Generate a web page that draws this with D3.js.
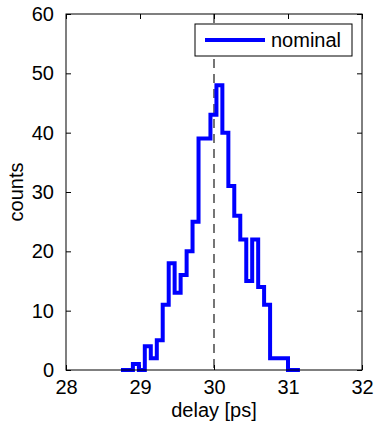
<!DOCTYPE html>
<html>
<head>
<meta charset="utf-8">
<script src="https://cdn.jsdelivr.net/npm/d3@7"></script>
<style>
  body { margin: 0; background: #fff; }
  text { font-family: "Liberation Sans", Arial, sans-serif; }
</style>
</head>
<body>
<svg id="chart"></svg>
<script>
// histogram bin edges (ps) and counts
const binEdges = [28.743, 28.824, 28.904, 28.985, 29.065, 29.146, 29.227, 29.307,
  29.388, 29.468, 29.549, 29.630, 29.710, 29.791, 29.871, 29.952, 30.033, 30.113,
  30.194, 30.274, 30.355, 30.436, 30.516, 30.597, 30.677, 30.758, 30.839, 30.919,
  31.000, 31.080, 31.161];
const counts = [0, 0, 1, 0, 4, 2, 5, 11, 18, 13, 16, 20, 25, 39, 39, 43, 48, 40,
  31, 26, 22, 15, 22, 14, 11, 2, 2, 2, 0, 0];
const nominalDelay = 30;
const xTicks = [28, 29, 30, 31, 32];
const yTicks = [0, 10, 20, 30, 40, 50, 60];

const margin = { top: 14, right: 15, bottom: 54, left: 66 };
const width = 377 - margin.left - margin.right;
const height = 424 - margin.top - margin.bottom;
const fontSize = 20;

const svg = d3.select("#chart")
    .attr("width", width + margin.left + margin.right)
    .attr("height", height + margin.top + margin.bottom)
    .append("g")
    .attr("transform", `translate(${margin.left},${margin.top})`);

const xScale = d3.scaleLinear().domain([28, 32]).range([0, width]);
const yScale = d3.scaleLinear().domain([0, 60]).range([height, 0]);

// stair points: each count starts at its left edge, closes at last edge
const pts = counts.map((c, i) => ({ x: binEdges[i], y: c }));
pts.push({ x: binEdges[binEdges.length - 1], y: counts[counts.length - 1] });

const line = d3.line()
    .x(d => xScale(d.x))
    .y(d => yScale(d.y))
    .curve(d3.curveStepAfter);

// nominal marker
svg.append("line")
    .attr("x1", xScale(nominalDelay)).attr("x2", xScale(nominalDelay))
    .attr("y1", 0).attr("y2", height)
    .attr("stroke", "#666")
    .attr("stroke-width", 1.8)
    .attr("stroke-dasharray", "9,6");

// axes, ticks pointing inward on all four sides
const tickLen = 5;
const axisStyle = g => {
  g.select(".domain").remove();
  g.selectAll(".tick line").attr("stroke", "#000");
  g.selectAll("text").attr("font-size", fontSize).attr("fill", "#000");
};

svg.append("g")
    .attr("transform", `translate(0,${height})`)
    .call(d3.axisBottom(xScale).tickValues(xTicks).tickFormat(d3.format("d"))
      .tickSizeInner(-tickLen).tickSizeOuter(0).tickPadding(10))
    .call(axisStyle);

svg.append("g")
    .call(d3.axisTop(xScale).tickValues(xTicks).tickFormat("")
      .tickSizeInner(-tickLen).tickSizeOuter(0))
    .call(axisStyle);

svg.append("g")
    .call(d3.axisLeft(yScale).tickValues(yTicks).tickFormat(d3.format("d"))
      .tickSizeInner(-tickLen).tickSizeOuter(0).tickPadding(12))
    .call(axisStyle);

svg.append("g")
    .attr("transform", `translate(${width},0)`)
    .call(d3.axisRight(yScale).tickValues(yTicks).tickFormat("")
      .tickSizeInner(-tickLen).tickSizeOuter(0))
    .call(axisStyle);

// histogram stairs
svg.append("path")
    .datum(pts)
    .attr("fill", "none")
    .attr("stroke", "#0000ff")
    .attr("stroke-width", 4)
    .attr("d", line);

// frame
svg.append("rect")
    .attr("width", width).attr("height", height)
    .attr("fill", "none").attr("stroke", "#000").attr("stroke-width", 1);

// axis labels
svg.append("text")
    .attr("x", width / 2).attr("y", height + 47)
    .attr("text-anchor", "middle")
    .attr("font-size", fontSize)
    .text("delay [ps]");

svg.append("text")
    .attr("transform", `translate(${-43},${height / 2}) rotate(-90)`)
    .attr("text-anchor", "middle")
    .attr("font-size", fontSize)
    .text("counts");

// legend
const legend = svg.append("g").attr("transform", `translate(${195 - margin.left},${24 - margin.top})`);
legend.append("rect")
    .attr("width", 157).attr("height", 32)
    .attr("fill", "#fff").attr("stroke", "#000").attr("stroke-width", 1);
legend.append("line")
    .attr("x1", 10).attr("x2", 70).attr("y1", 16).attr("y2", 16)
    .attr("stroke", "#0000ff").attr("stroke-width", 4);
legend.append("text")
    .attr("x", 76).attr("y", 23)
    .attr("font-size", fontSize)
    .text("nominal");
</script>
</body>
</html>
